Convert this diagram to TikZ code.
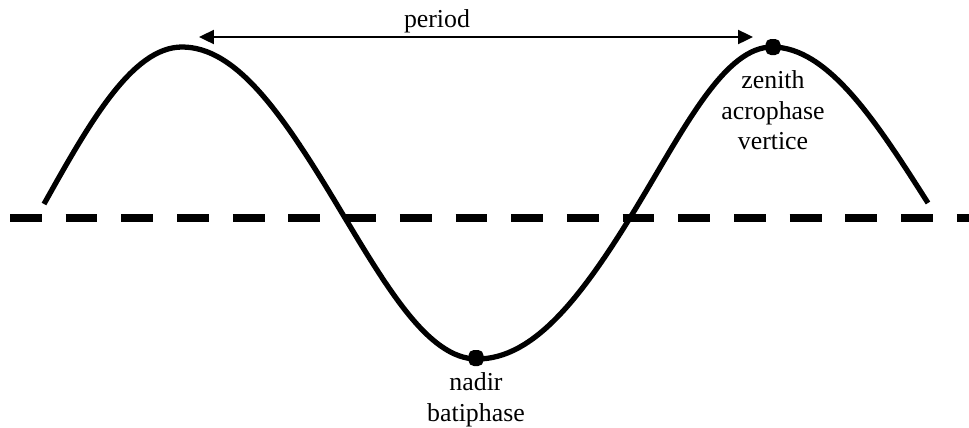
\documentclass[tikz,border=0pt]{standalone}
\usepackage{fontspec}
\setmainfont{Liberation Serif}
\usetikzlibrary{arrows.meta,positioning}

\begin{document}
\begin{tikzpicture}[x=0.02cm,y=-0.02cm,
  wave/.style={line width=3pt,line join=round},
  baseline dash/.style={line width=4.5pt,dash pattern=on 18.1pt off 13.6pt},
  span/.style={line width=1.1pt,{Triangle[length=8.5pt,width=8pt]}-{Triangle[length=8.5pt,width=8pt]}},
  extremum/.style={rounded corners=3pt,fill,inner sep=0pt,minimum width=0.3cm,minimum height=0.32cm},
  lbl/.style={font=\fontsize{14.7}{17.6}\selectfont,align=center,inner sep=0pt}]
\useasboundingbox (0,0) rectangle (969,427);

\coordinate (axL) at (10,218);
\coordinate (axR) at (969,218);
\coordinate (pL) at (199,37);
\coordinate (pR) at (753,37);

\draw[baseline dash] (axL) -- (axR);

\draw[wave] (44,204) sin (182,47)
  .. controls (236.1,47) and (281.9,113.2) .. (336,203)
  .. controls (385.5,285.2) and (427.5,359) .. (477,359)
  .. controls (533.9,359) and (582.1,297.5) .. (639,203)
  .. controls (685.7,125.4) and (725.3,47) .. (772,47)
  cos (928,203);

\node[extremum] (zen) at (773,47) {};
\node[extremum] (nad) at (476,358) {};

\node[lbl,below=0.29cm of zen] (zenlbl) {zenith\\acrophase\\vertice};
\node[lbl,below=0.12cm of nad] (nadlbl) {nadir\\batiphase};

\draw[span] (pL) -- (pR);
\node[lbl,anchor=base] (period) at (437,27) {period};

\end{tikzpicture}
\end{document}
